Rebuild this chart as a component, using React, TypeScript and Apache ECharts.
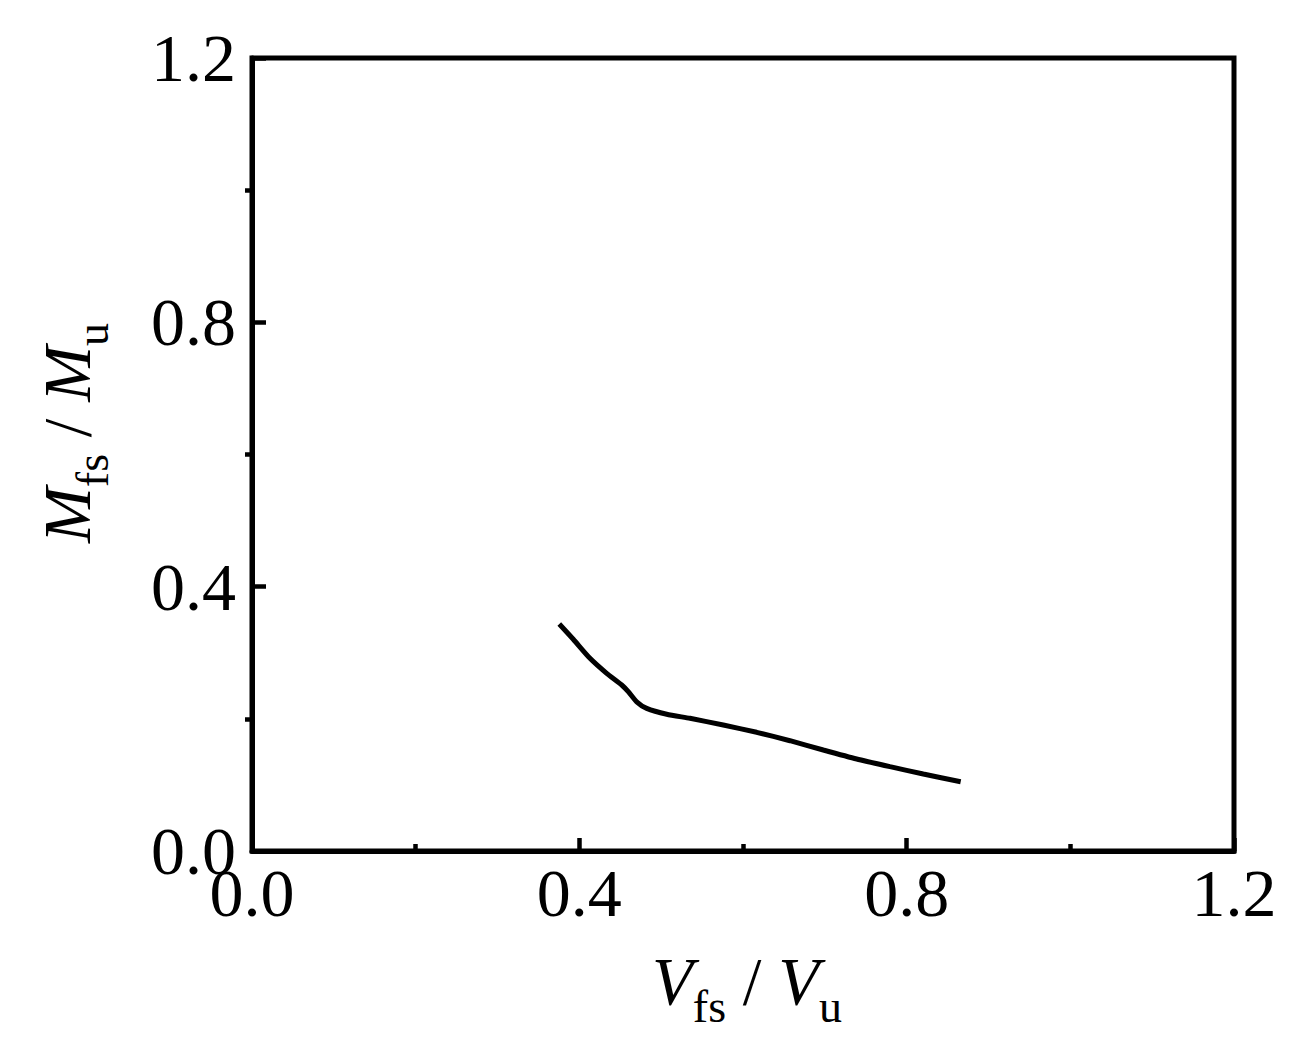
import React, { useEffect, useRef } from "react";
import * as echarts from "echarts";

// Data
const vfsVu = [0.3755, 0.3926, 0.413, 0.4334, 0.4518, 0.4598, 0.4701, 0.4823, 0.5068, 0.5352, 0.5759, 0.6167, 0.6574, 0.6981, 0.7389, 0.7796, 0.8203, 0.866];
const mfsMu = [0.3435, 0.3204, 0.2916, 0.2689, 0.2512, 0.2411, 0.2258, 0.2158, 0.2069, 0.2008, 0.1907, 0.1796, 0.1669, 0.1528, 0.1392, 0.1276, 0.1165, 0.1049];
const axisMin = 0;
const axisMax = 1.2;
const majorStep = 0.4;

const FONT = "'Liberation Serif', 'Times New Roman', serif";

export default function App() {
  const ref = useRef<HTMLDivElement>(null);
  useEffect(() => {
    document.body.style.margin = "0";
    if (!ref.current) return;
    const chart = echarts.init(ref.current, null, { renderer: "svg" });
    const data = vfsVu.map((x, i) => [x, mfsMu[i]]);
    const lbl = {
      fontFamily: FONT,
      fontSize: 68,
      color: "#000",
      formatter: (v: number) => v.toFixed(1),
    };
    const richTitle = {
      i: { fontFamily: FONT, fontSize: 67, fontStyle: "italic", color: "#000", lineHeight: 96, verticalAlign: "middle" },
      n: { fontFamily: FONT, fontSize: 67, color: "#000", lineHeight: 96, verticalAlign: "middle" },
      s: { fontFamily: FONT, fontSize: 46, color: "#000", lineHeight: 96, verticalAlign: "bottom" },
    };
    chart.setOption({
      animation: false,
      backgroundColor: "#fff",
      grid: {
        left: 252,
        right: 74,
        top: 58,
        bottom: 193,
        show: true,
        borderColor: "#000",
        borderWidth: 5,
        containLabel: false,
      },
      xAxis: {
        type: "value",
        min: axisMin,
        max: axisMax,
        interval: majorStep,
        axisLine: { show: true, onZero: false, lineStyle: { color: "#000", width: 5 } },
        axisTick: { show: true, inside: true, length: 13, lineStyle: { color: "#000", width: 4.5 } },
        minorTick: { show: true, splitNumber: 2, length: 7, lineStyle: { color: "#000", width: 4.5 } },
        splitLine: { show: false },
        axisLabel: { ...lbl, margin: 8 },
      },
      yAxis: [
        {
          type: "value",
          min: axisMin,
          max: axisMax,
          interval: majorStep,
          axisLine: { show: true, onZero: false, lineStyle: { color: "#000", width: 5 } },
          axisTick: { show: true, inside: true, length: 14, lineStyle: { color: "#000", width: 4.5 } },
          splitLine: { show: false },
          axisLabel: { ...lbl, margin: 16 },
        },
        {
          type: "value",
          position: "left",
          min: axisMin,
          max: axisMax,
          interval: majorStep,
          axisLine: { show: false },
          axisTick: { show: false, inside: false },
          minorTick: { show: true, splitNumber: 2, length: 7, lineStyle: { color: "#000", width: 4.5 } },
          splitLine: { show: false },
          minorSplitLine: { show: false },
          axisLabel: { show: false },
        },
      ],
      graphic: [
        {
          type: "text",
          x: 747,
          y: 981,
          style: {
            text: "{i|V}{s|fs}{n| / }{i|V}{s|u}",
            rich: richTitle,
            align: "center",
            verticalAlign: "middle",
          },
        },
        {
          type: "text",
          x: 67,
          y: 433,
          rotation: Math.PI / 2,
          style: {
            text: "{i|M}{s|fs}{n| / }{i|M}{s|u}",
            rich: richTitle,
            align: "center",
            verticalAlign: "middle",
          },
        },
      ],
      series: [
        {
          type: "line",
          data,
          showSymbol: false,
          smooth: 0.2,
          lineStyle: { color: "#000", width: 5 },
        },
      ],
    });
    return () => chart.dispose();
  }, []);
  return <div ref={ref} style={{ width: 1308, height: 1044 }} />;
}
